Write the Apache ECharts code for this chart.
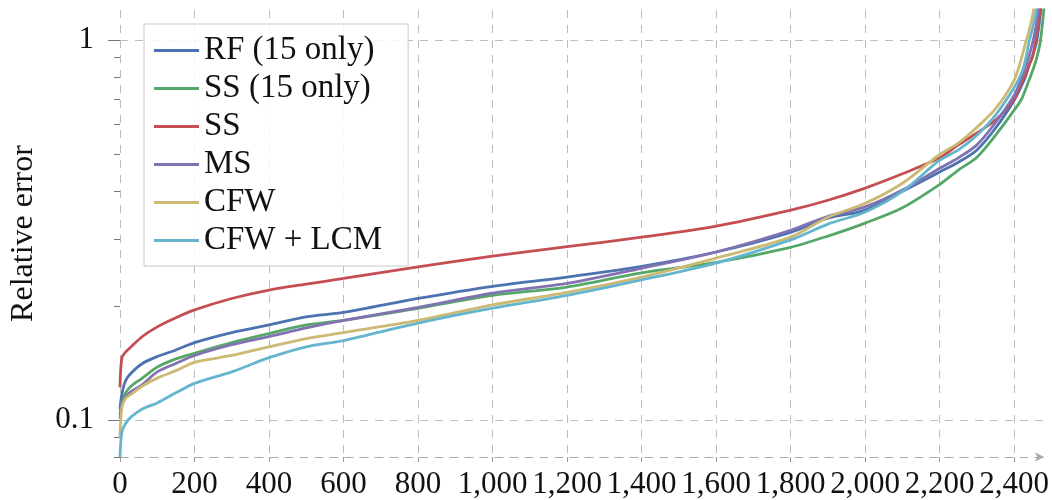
<!DOCTYPE html>
<html>
<head>
<meta charset="utf-8">
<script src="https://cdn.jsdelivr.net/npm/echarts@6/dist/echarts.min.js"></script>
<style>
  html, body { margin: 0; padding: 0; background: #fff; }
  #chart { width: 1052px; height: 500px; }
</style>
</head>
<body>
<div id="chart"></div>
<script>
// sample index (sorted queries)
var xs = [0, 5, 15, 30, 60, 100, 150, 200, 300, 400, 500, 600, 800, 1000, 1200, 1400, 1600, 1800, 1900, 2000, 2100, 2200, 2250, 2300, 2350, 2400, 2420, 2430, 2440, 2450, 2460, 2470, 2480];

var rf15 = [0.107, 0.117, 0.127, 0.133, 0.141, 0.147, 0.153, 0.160, 0.170, 0.178, 0.187, 0.192, 0.209, 0.225, 0.238, 0.254, 0.277, 0.312, 0.340, 0.357, 0.400, 0.450, 0.477, 0.514, 0.587, 0.695, 0.76, 0.80, 0.86, 0.915, 0.99, 1.17, 1.5];
var ss15 = [0.103, 0.111, 0.118, 0.123, 0.129, 0.138, 0.145, 0.150, 0.160, 0.169, 0.178, 0.183, 0.197, 0.213, 0.224, 0.244, 0.260, 0.285, 0.305, 0.330, 0.362, 0.417, 0.455, 0.492, 0.562, 0.654, 0.70, 0.74, 0.785, 0.834, 0.895, 0.99, 1.22];
var ss = [0.122, 0.146, 0.151, 0.156, 0.166, 0.176, 0.186, 0.195, 0.209, 0.220, 0.228, 0.236, 0.253, 0.270, 0.286, 0.303, 0.324, 0.357, 0.379, 0.408, 0.445, 0.490, 0.530, 0.570, 0.616, 0.700, 0.775, 0.81, 0.86, 0.91, 1.03, 1.2, 1.5];
var ms = [0.101, 0.110, 0.115, 0.119, 0.124, 0.134, 0.141, 0.148, 0.158, 0.166, 0.175, 0.183, 0.198, 0.216, 0.229, 0.251, 0.277, 0.316, 0.344, 0.364, 0.403, 0.460, 0.490, 0.530, 0.607, 0.716, 0.795, 0.85, 0.91, 0.99, 1.11, 1.35, 1.6];
var cfw = [0.090, 0.108, 0.114, 0.117, 0.123, 0.129, 0.135, 0.142, 0.148, 0.156, 0.164, 0.170, 0.183, 0.201, 0.217, 0.238, 0.267, 0.303, 0.342, 0.372, 0.420, 0.500, 0.536, 0.590, 0.660, 0.785, 0.90, 0.98, 1.06, 1.17, 1.35, 1.6, 1.9];
var cfwLcm = [0.080, 0.093, 0.098, 0.102, 0.107, 0.111, 0.118, 0.125, 0.134, 0.146, 0.156, 0.162, 0.180, 0.197, 0.213, 0.234, 0.259, 0.298, 0.328, 0.353, 0.400, 0.483, 0.514, 0.562, 0.635, 0.75, 0.82, 0.886, 0.99, 1.08, 1.2, 1.4, 1.7];

var names = ['RF (15 only)', 'SS (15 only)', 'SS', 'MS', 'CFW', 'CFW + LCM'];
var values = [rf15, ss15, ss, ms, cfw, cfwLcm];
var colors = ['#4C72B0', '#55A868', '#C44E52', '#8172B2', '#CCB974', '#64B5CD'];

var xTicks = [0, 200, 400, 600, 800, 1000, 1200, 1400, 1600, 1800, 2000, 2200, 2400];
var yMajor = [0.1, 1];
var yMinor = [0.08, 0.09, 0.2, 0.3, 0.4, 0.5, 0.6, 0.7, 0.8, 0.9];

var font = 'Liberation Serif';
var gridColor = '#bdbdbd';

var series = names.map(function (name, i) {
	return {
		name: name,
		type: 'line',
		showSymbol: false,
		smooth: 0.3,
		clip: true,
		lineStyle: { width: 2.8, color: colors[i] },
		itemStyle: { color: colors[i] },
		data: xs.map(function (x, j) { return [x, values[i][j]]; })
	};
});

var myChart = echarts.init(document.getElementById('chart'));
var option = {
	animation: false,
	backgroundColor: '#fff',
	grid: { left: 117, right: 5, top: 10, bottom: 43 },
	legend: {
		left: 144,
		top: 24,
		orient: 'vertical',
		icon: 'rect',
		itemWidth: 45,
		itemHeight: 3,
		itemGap: 5,
		padding: [10, 26, 9, 10],
		borderColor: '#c8c8c8',
		borderWidth: 1,
		backgroundColor: 'rgba(255,255,255,0.85)',
		textStyle: { fontFamily: font, fontSize: 33, lineHeight: 30, color: '#111' },
		data: names
	},
	xAxis: {
		type: 'value',
		min: 0,
		max: 2480,
		axisLine: {
			show: true,
			symbol: ['none', 'arrow'],
			symbolSize: [7, 9],
			lineStyle: { color: '#aaa', type: [8, 7] }
		},
		axisTick: { show: true, length: 5, customValues: xTicks, lineStyle: { color: '#999' } },
		axisLabel: {
			customValues: xTicks,
			margin: 12,
			fontFamily: font,
			fontSize: 31,
			color: '#111',
			formatter: function (v) { return v.toLocaleString('en-US'); }
		},
		splitLine: { show: true, lineStyle: { color: gridColor, type: [8, 7] } }
	},
	yAxis: [
		{
			type: 'log',
			logBase: 10,
			min: 0.08,
			max: 1.2,
			name: 'Relative error',
			nameLocation: 'middle',
			nameGap: 80,
			nameTextStyle: { fontFamily: font, fontSize: 32, color: '#111' },
			axisLine: { show: false },
			axisTick: { show: true, length: 12, customValues: yMajor, lineStyle: { color: '#777' } },
			axisLabel: {
				customValues: yMajor,
				margin: 26,
				fontFamily: font,
				fontSize: 31,
				color: '#111',
				formatter: function (v) { return String(Number(v.toPrecision(3))); }
			},
			splitLine: { show: true, lineStyle: { color: gridColor, type: [8, 7] } }
		},
		{
			type: 'log',
			logBase: 10,
			min: 0.08,
			max: 1.2,
			position: 'left',
			axisLine: { show: false },
			axisTick: { show: true, length: 6, customValues: yMinor, lineStyle: { color: '#777' } },
			axisLabel: { show: false },
			splitLine: { show: false }
		}
	],
	series: series
};
myChart.setOption(option);
</script>
</body>
</html>
